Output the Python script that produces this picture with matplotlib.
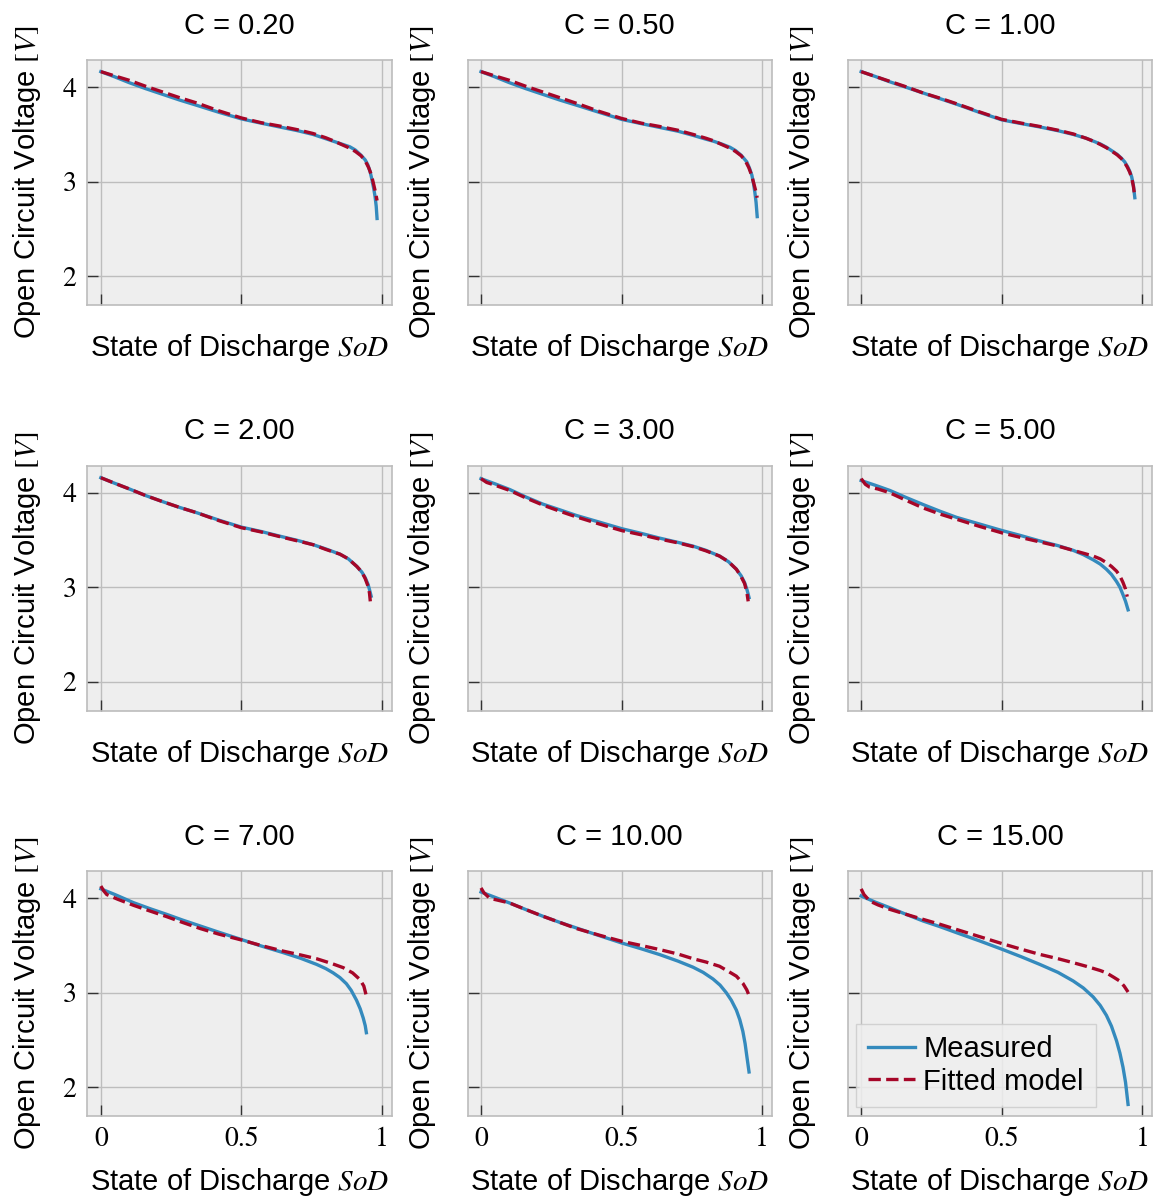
import matplotlib
matplotlib.use("Agg")
import matplotlib.pyplot as plt

# C-rates of the nine panels
c_rates = [0.2, 0.5, 1.0, 2.0, 3.0, 5.0, 7.0, 10.0, 15.0]

# Measured open circuit voltage curves (SoD, V)
meas_sod = [
    [0, 0.05, 0.10, 0.16, 0.22, 0.28, 0.34, 0.42, 0.50, 0.57, 0.635, 0.70, 0.755, 0.80, 0.825,
     0.855, 0.885, 0.905, 0.925, 0.94, 0.949, 0.957, 0.964, 0.970, 0.975, 0.979, 0.982],
    [0, 0.05, 0.10, 0.16, 0.22, 0.28, 0.34, 0.42, 0.50, 0.57, 0.635, 0.70, 0.755, 0.80, 0.825,
     0.855, 0.885, 0.905, 0.925, 0.945, 0.955, 0.963, 0.969, 0.974, 0.978, 0.982],
    [0, 0.05, 0.10, 0.16, 0.22, 0.28, 0.34, 0.42, 0.50, 0.57, 0.635, 0.70, 0.755, 0.80, 0.825,
     0.85, 0.872, 0.895, 0.91, 0.925, 0.937, 0.947, 0.955, 0.962, 0.968, 0.973],
    [0, 0.05, 0.102, 0.16, 0.221, 0.28, 0.34, 0.42, 0.50, 0.57, 0.637, 0.70, 0.755, 0.80, 0.85,
     0.88, 0.91, 0.928, 0.94, 0.95, 0.955, 0.961],
    [0, 0.05, 0.102, 0.16, 0.22, 0.28, 0.339, 0.42, 0.50, 0.57, 0.635, 0.70, 0.754, 0.80, 0.848,
     0.88, 0.908, 0.925, 0.937, 0.946, 0.953],
    [0, 0.05, 0.102, 0.16, 0.22, 0.28, 0.339, 0.42, 0.501, 0.57, 0.635, 0.70, 0.754, 0.79, 0.825,
     0.85, 0.872, 0.89, 0.908, 0.92, 0.931, 0.94, 0.949],
    [0, 0.05, 0.116, 0.175, 0.234, 0.29, 0.353, 0.42, 0.498, 0.57, 0.649, 0.71, 0.767, 0.80, 0.826,
     0.85, 0.873, 0.89, 0.909, 0.922, 0.933, 0.94, 0.944],
    [0, 0.05, 0.102, 0.16, 0.22, 0.28, 0.339, 0.42, 0.50, 0.57, 0.635, 0.70, 0.754, 0.79, 0.825,
     0.85, 0.872, 0.89, 0.908, 0.92, 0.931, 0.939, 0.945, 0.953],
    [0, 0.05, 0.102, 0.16, 0.22, 0.28, 0.339, 0.42, 0.501, 0.57, 0.635, 0.70, 0.754, 0.79, 0.825,
     0.85, 0.872, 0.89, 0.908, 0.92, 0.931, 0.94, 0.949],
]
meas_v = [
    [4.166, 4.11, 4.05, 3.985, 3.925, 3.865, 3.81, 3.735, 3.665, 3.62, 3.58, 3.54, 3.50, 3.455, 3.43,
     3.40, 3.37, 3.335, 3.28, 3.23, 3.18, 3.11, 3.02, 2.93, 2.84, 2.74, 2.61],
    [4.166, 4.11, 4.05, 3.985, 3.925, 3.865, 3.81, 3.735, 3.66, 3.615, 3.575, 3.535, 3.49, 3.45, 3.43,
     3.40, 3.365, 3.33, 3.28, 3.21, 3.14, 3.07, 2.98, 2.88, 2.78, 2.63],
    [4.166, 4.115, 4.06, 4.00, 3.94, 3.88, 3.82, 3.735, 3.655, 3.615, 3.58, 3.54, 3.50, 3.46, 3.43,
     3.40, 3.365, 3.32, 3.29, 3.25, 3.21, 3.16, 3.11, 3.05, 2.96, 2.83],
    [4.16, 4.10, 4.04, 3.97, 3.905, 3.845, 3.79, 3.71, 3.636, 3.59, 3.54, 3.495, 3.45, 3.405, 3.35,
     3.30, 3.22, 3.16, 3.10, 3.03, 2.975, 2.905],
    [4.15, 4.095, 4.035, 3.955, 3.88, 3.82, 3.76, 3.69, 3.62, 3.57, 3.52, 3.475, 3.435, 3.39, 3.33,
     3.27, 3.19, 3.12, 3.05, 2.97, 2.89],
    [4.13, 4.08, 4.025, 3.95, 3.876, 3.805, 3.74, 3.67, 3.60, 3.545, 3.49, 3.44, 3.39, 3.345, 3.29,
     3.245, 3.19, 3.135, 3.06, 3.00, 2.92, 2.85, 2.76],
    [4.10, 4.04, 3.954, 3.89, 3.83, 3.77, 3.707, 3.64, 3.565, 3.495, 3.424, 3.365, 3.30, 3.255, 3.21,
     3.16, 3.095, 3.025, 2.92, 2.83, 2.73, 2.65, 2.576],
    [4.067, 4.01, 3.95, 3.88, 3.81, 3.745, 3.686, 3.605, 3.527, 3.465, 3.404, 3.335, 3.27, 3.215, 3.145,
     3.08, 3.00, 2.92, 2.815, 2.715, 2.59, 2.46, 2.33, 2.16],
    [4.025, 3.96, 3.90, 3.83, 3.76, 3.70, 3.636, 3.55, 3.46, 3.38, 3.30, 3.215, 3.124, 3.05, 2.955,
     2.865, 2.76, 2.645, 2.49, 2.36, 2.21, 2.05, 1.816],
]

# Fitted model curves (SoD, V)
fit_sod = [
    [0, 0.05, 0.10, 0.16, 0.22, 0.28, 0.34, 0.42, 0.50, 0.57, 0.635, 0.70, 0.755, 0.80, 0.825,
     0.855, 0.885, 0.905, 0.925, 0.94, 0.952, 0.962, 0.970, 0.977, 0.982],
    [0, 0.05, 0.10, 0.16, 0.22, 0.28, 0.34, 0.42, 0.50, 0.57, 0.635, 0.70, 0.755, 0.80, 0.825,
     0.855, 0.885, 0.905, 0.925, 0.94, 0.952, 0.962, 0.970, 0.977, 0.982],
    [0, 0.05, 0.10, 0.16, 0.22, 0.28, 0.34, 0.42, 0.50, 0.57, 0.635, 0.70, 0.755, 0.80, 0.825,
     0.85, 0.872, 0.895, 0.91, 0.925, 0.937, 0.947, 0.955, 0.962, 0.968, 0.973],
    [0, 0.05, 0.102, 0.16, 0.221, 0.28, 0.34, 0.42, 0.50, 0.57, 0.637, 0.70, 0.755, 0.80, 0.85,
     0.88, 0.91, 0.928, 0.94, 0.95, 0.955, 0.958],
    [0, 0.02, 0.05, 0.102, 0.16, 0.22, 0.28, 0.339, 0.42, 0.50, 0.57, 0.635, 0.70, 0.754, 0.80,
     0.848, 0.88, 0.908, 0.925, 0.937, 0.945, 0.95],
    [0, 0.015, 0.03, 0.06, 0.102, 0.16, 0.22, 0.28, 0.339, 0.42, 0.501, 0.57, 0.635, 0.70, 0.754,
     0.79, 0.825, 0.85, 0.872, 0.89, 0.908, 0.92, 0.931, 0.94, 0.946],
    [0, 0.01, 0.021, 0.06, 0.116, 0.175, 0.234, 0.29, 0.353, 0.42, 0.498, 0.57, 0.649, 0.71, 0.767,
     0.82, 0.862, 0.895, 0.921, 0.935, 0.944],
    [0, 0.01, 0.031, 0.06, 0.102, 0.16, 0.22, 0.28, 0.339, 0.42, 0.50, 0.57, 0.635, 0.70, 0.754,
     0.80, 0.848, 0.88, 0.908, 0.931, 0.945, 0.953],
    [0, 0.01, 0.031, 0.06, 0.102, 0.16, 0.22, 0.28, 0.339, 0.42, 0.501, 0.57, 0.635, 0.70, 0.754,
     0.80, 0.85, 0.872, 0.90, 0.919, 0.935, 0.949],
]
fit_v = [
    [4.166, 4.12, 4.075, 4.01, 3.95, 3.89, 3.835, 3.75, 3.675, 3.625, 3.59, 3.55, 3.51, 3.465, 3.435,
     3.395, 3.355, 3.32, 3.275, 3.22, 3.15, 3.07, 2.97, 2.88, 2.80],
    [4.166, 4.12, 4.075, 4.01, 3.95, 3.89, 3.83, 3.745, 3.67, 3.62, 3.585, 3.545, 3.50, 3.46, 3.435,
     3.395, 3.355, 3.32, 3.275, 3.22, 3.15, 3.07, 2.98, 2.90, 2.83],
    [4.166, 4.115, 4.065, 4.005, 3.94, 3.885, 3.825, 3.74, 3.66, 3.62, 3.585, 3.545, 3.505, 3.46, 3.43,
     3.395, 3.36, 3.315, 3.285, 3.245, 3.20, 3.15, 3.10, 3.04, 2.95, 2.84],
    [4.16, 4.10, 4.04, 3.97, 3.905, 3.845, 3.79, 3.705, 3.63, 3.585, 3.535, 3.49, 3.45, 3.40, 3.35,
     3.30, 3.22, 3.16, 3.09, 3.01, 2.94, 2.85],
    [4.15, 4.11, 4.08, 4.025, 3.945, 3.87, 3.805, 3.745, 3.67, 3.60, 3.555, 3.51, 3.47, 3.43, 3.385,
     3.33, 3.27, 3.19, 3.11, 3.04, 2.95, 2.85],
    [4.15, 4.09, 4.06, 4.04, 4.00, 3.92, 3.84, 3.775, 3.72, 3.645, 3.575, 3.525, 3.48, 3.435, 3.39,
     3.36, 3.33, 3.30, 3.26, 3.22, 3.17, 3.12, 3.05, 2.98, 2.90],
    [4.13, 4.08, 4.04, 3.99, 3.926, 3.865, 3.806, 3.745, 3.68, 3.62, 3.56, 3.50, 3.44, 3.40, 3.36,
     3.31, 3.265, 3.21, 3.14, 3.07, 2.965],
    [4.11, 4.06, 4.00, 3.98, 3.95, 3.88, 3.81, 3.745, 3.68, 3.61, 3.545, 3.50, 3.457, 3.41, 3.36,
     3.325, 3.28, 3.225, 3.175, 3.10, 3.03, 2.97],
    [4.10, 4.04, 3.97, 3.93, 3.883, 3.83, 3.777, 3.725, 3.67, 3.595, 3.52, 3.46, 3.406, 3.36, 3.318,
     3.28, 3.235, 3.21, 3.16, 3.124, 3.07, 3.007],
]

x_ticks = [0, 0.5, 1]
x_tick_labels = ["0", "0.5", "1"]
y_ticks = [2, 3, 4]
y_tick_labels = ["2", "3", "4"]


def main():
    plt.style.use("bmh")
    plt.rcParams["font.family"] = ["Liberation Sans", "DejaVu Sans"]
    plt.rcParams["mathtext.fontset"] = "stix"
    plt.rcParams["grid.linestyle"] = "-"
    plt.rcParams["grid.linewidth"] = 1.0
    plt.rcParams["grid.color"] = "#bdbdbd"

    fig, axes = plt.subplots(3, 3, sharex=True, sharey=True, figsize=(11.57, 11.98), dpi=100)
    fig.subplots_adjust(left=0.0755, right=0.9959, top=0.9499, bottom=0.0684,
                        wspace=0.248, hspace=0.655)

    for i, ax in enumerate(axes.flat):
        row, col = divmod(i, 3)
        ax.plot(meas_sod[i], meas_v[i], color="#348ABD", lw=2.4, label="Measured")
        ax.plot(fit_sod[i], fit_v[i], color="#A60628", lw=2.4, ls="--", label="Fitted model")
        ax.set_title("C = %.2f" % c_rates[i], fontsize=21, pad=19)
        ax.set_xlabel("State of Discharge $SoD$", fontsize=21)
        ax.set_ylabel("Open Circuit Voltage $[V]$", fontsize=21)
        ax.xaxis.set_label_coords(0.5, -0.205 if row == 2 else -0.11)
        ax.yaxis.set_label_coords(-0.145 if col == 0 else -0.097, 0.5)
        for s in ax.spines.values():
            s.set_color("#bcbcbc")
            s.set_linewidth(1.2)
        ax.tick_params(direction="in", length=8, width=1, color="0.2",
                       labelsize=20, labelfontfamily="STIXGeneral",
                       top=False, right=False)
        ax.tick_params(axis="x", pad=8)
        ax.tick_params(axis="y", pad=8)

    ax0 = axes[0, 0]
    ax0.set_xlim(-0.048, 1.035)
    ax0.set_ylim(1.693, 4.289)
    ax0.set_xticks(x_ticks)
    ax0.set_xticklabels(x_tick_labels)
    ax0.set_yticks(y_ticks)
    ax0.set_yticklabels(y_tick_labels)

    leg = axes[2, 2].legend(loc="lower left", fontsize=21, handlelength=1.6,
                            handletextpad=0.3, labelspacing=0.15,
                            borderaxespad=0.3, fancybox=False,
                            facecolor="#eeeeee", edgecolor="#cccccc", framealpha=0.85)
    leg.get_frame().set_linewidth(1.0)

    fig.savefig("out.png", dpi=100)


if __name__ == "__main__":
    main()
